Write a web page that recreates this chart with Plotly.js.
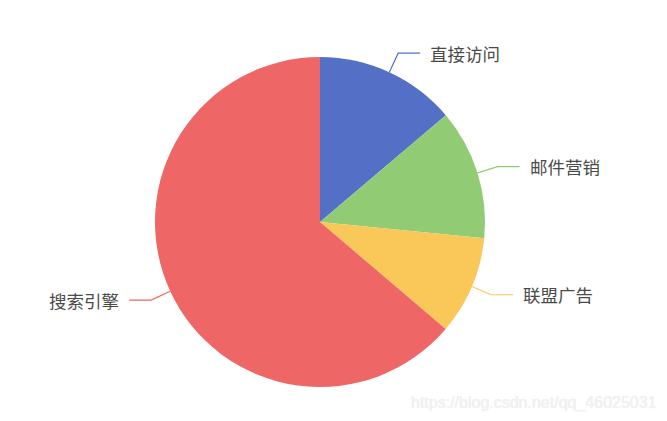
<!DOCTYPE html>
<html>
<head>
<meta charset="utf-8">
<script src="https://cdn.plot.ly/plotly-3.0.1.min.js"></script>
<style>
  html, body { margin: 0; padding: 0; background: #fff; }
  #chart { width: 667px; height: 421px; }
</style>
</head>
<body>
<div id="chart"></div>
<script>
// data
const labels = ["直接访问", "邮件营销", "联盟广告", "搜索引擎"];
const values = [335, 310, 234, 1548];
const colors = ["#5470c6", "#91cc75", "#fac858", "#ee6666"];

// geometry (pixels)
const W = 667, H = 421;
const cx = 320, cy = 222, r = 165;
const len1 = 21, len2 = 22, gap = 8;

const px = x => x / W;
const py = y => 1 - y / H;

const total = values.reduce((a, b) => a + b, 0);
const shapes = [];
const annotations = [];
let acc = 0;
values.forEach((v, i) => {
  const mid = (acc + v / 2) / total * 2 * Math.PI;
  acc += v;
  const sx = Math.sin(mid), sy = -Math.cos(mid);
  const x0 = cx + r * sx, y0 = cy + r * sy;
  const x1 = cx + (r + len1) * sx, y1 = cy + (r + len1) * sy;
  const dir = sx >= 0 ? 1 : -1;
  const x2 = x1 + dir * len2;
  shapes.push({
    type: "path", xref: "paper", yref: "paper",
    path: `M ${px(x0)},${py(y0)} L ${px(x1)},${py(y1)} L ${px(x2)},${py(y1)}`,
    line: { color: colors[i], width: 1.2 }
  });
  annotations.push({
    xref: "paper", yref: "paper",
    x: px(x2 + dir * gap), y: py(y1),
    xanchor: dir > 0 ? "left" : "right", yanchor: "middle",
    text: labels[i], showarrow: false,
    font: { family: "Noto Sans CJK SC, sans-serif", size: 17.5, color: "#4a4a4a" }
  });
});

// watermark
annotations.push({
  xref: "paper", yref: "paper",
  x: px(659), y: py(403), xanchor: "right", yanchor: "middle",
  text: "https://blog.csdn.net/qq_46025031", showarrow: false,
  font: { family: "Liberation Sans, Arial, sans-serif", size: 16, color: "#f2f2f2",
          shadow: "0px 0px 1px #e2e2e2" }
});

const trace = {
  type: "pie",
  labels: labels,
  values: values,
  sort: false,
  direction: "clockwise",
  rotation: 0,
  textinfo: "none",
  marker: { colors: colors, line: { width: 0 } },
  domain: { x: [px(cx - r), px(cx + r)], y: [py(cy + r), py(cy - r)] },
  hoverinfo: "label+value+percent"
};

const layout = {
  width: W, height: H,
  margin: { l: 0, r: 0, t: 0, b: 0 },
  showlegend: false,
  paper_bgcolor: "#fff",
  shapes: shapes,
  annotations: annotations
};

Plotly.newPlot("chart", [trace], layout, { displayModeBar: false });
</script>
</body>
</html>
